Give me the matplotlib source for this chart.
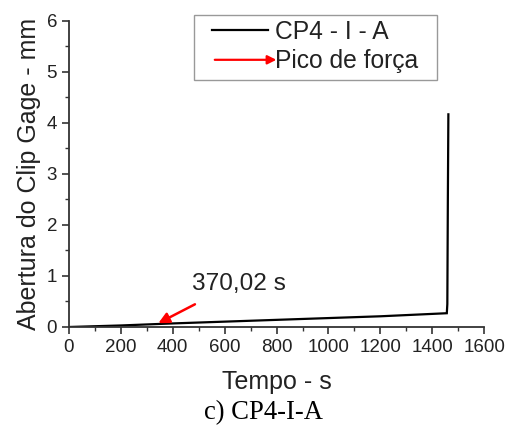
import matplotlib
matplotlib.use("Agg")
import matplotlib.pyplot as plt
from matplotlib.lines import Line2D
from matplotlib.patches import FancyArrowPatch, Rectangle
from matplotlib.legend_handler import HandlerBase
from matplotlib.ticker import MultipleLocator

# Data
tempo = [0, 200, 400, 600, 800, 1000, 1200, 1456, 1458, 1460, 1462]
abertura = [0.0, 0.03, 0.07, 0.105, 0.14, 0.175, 0.21, 0.27, 0.45, 2.5, 4.17]
serie_label = "CP4 - I - A"
pico_label = "Pico de força"
pico_text = "370,02 s"
pico_xy = (335, 0.05)
pico_text_xy = (495, 0.47)
x_ticks = [0, 200, 400, 600, 800, 1000, 1200, 1400, 1600]
y_ticks = [0, 1, 2, 3, 4, 5, 6]

plt.rcParams['font.family'] = ['Liberation Sans', 'DejaVu Sans']

fig = plt.figure(figsize=(5.07, 4.25), dpi=100)
ax = fig.add_axes([0.136, 0.2306, 0.819, 0.72])

ax.plot(tempo, abertura, color='black', lw=1.6, solid_joinstyle='miter')
ax.annotate("", xy=pico_xy, xytext=pico_text_xy,
            arrowprops=dict(arrowstyle='-|>', color='red', lw=1.8, mutation_scale=16))
ax.text(476, 0.62, pico_text, fontsize=17.6, color='#222222', ha='left', va='bottom')

ax.set_xlim(0, 1600)
ax.set_ylim(0, 6)
ax.set_xticks(x_ticks)
ax.set_yticks(y_ticks)
ax.xaxis.set_minor_locator(MultipleLocator(100))
ax.yaxis.set_minor_locator(MultipleLocator(0.5))
ax.tick_params(which='major', direction='out', length=5, width=1.2, labelsize=13.5, colors='#333333', labelcolor='#222222')
ax.tick_params(which='minor', direction='out', length=3, width=1.0, colors='#333333')
for s in ['top', 'right']:
    ax.spines[s].set_visible(False)
for s in ['left', 'bottom']:
    ax.spines[s].set_linewidth(1.3)
    ax.spines[s].set_color('#333333')

ax.set_xlabel("Tempo - s", fontsize=18, color='#222222', labelpad=10)
ax.set_ylabel("Abertura do Clip Gage - mm", fontsize=18, color='#222222', labelpad=4)


class ArrowHandler(HandlerBase):
    def create_artists(self, legend, orig_handle, xdescent, ydescent, width, height, fontsize, trans):
        y = height / 2 - ydescent
        a = FancyArrowPatch((-xdescent, y), (width - xdescent + 8, y),
                            arrowstyle='-|>', color='red', lw=1.6, mutation_scale=13,
                            transform=trans)
        return [a]


# legend frame drawn as a rectangle in figure pixels
fig.add_artist(Rectangle((194 / 507, 1 - 80 / 425), (437 - 194) / 507, 65 / 425,
                         transform=fig.transFigure, fill=False, edgecolor='#999999', lw=1.0))

h1 = Line2D([], [], color='black', lw=1.6)
h2 = FancyArrowPatch((0, 0), (1, 0))
leg = fig.legend([h1, h2], [serie_label, pico_label],
                 handler_map={FancyArrowPatch: ArrowHandler()},
                 loc='upper left', bbox_to_anchor=(212 / 507, 1 - 20 / 425),
                 fontsize=17.7, frameon=False,
                 handlelength=2.28, handletextpad=0.28, borderpad=0, labelspacing=0.22,
                 borderaxespad=0)
for t in leg.get_texts():
    t.set_color('#222222')

fig.text(263 / 507, 1 - 413 / 425, "c) CP4-I-A", family=['Liberation Serif', 'DejaVu Serif'],
         fontsize=19.2, ha='center', va='center', color='black')

fig.savefig("out.png", dpi=100)
